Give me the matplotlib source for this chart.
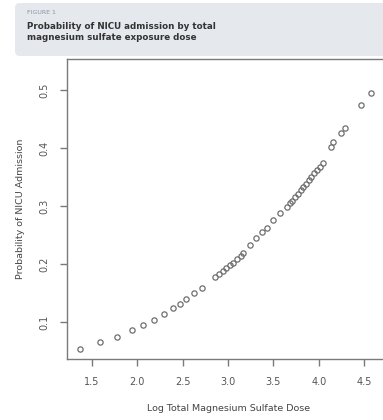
import matplotlib.pyplot as plt
from matplotlib.patches import FancyBboxPatch

# values
log_dose = [1.37, 1.59, 1.77, 1.94, 2.06, 2.18, 2.29, 2.39, 2.47, 2.54, 2.63, 2.71,
            2.86, 2.90, 2.94, 2.98, 3.02, 3.06, 3.10, 3.14, 3.17,
            3.24, 3.31, 3.37, 3.43, 3.50, 3.57,
            3.65, 3.68, 3.71, 3.74, 3.77, 3.80, 3.83, 3.86, 3.89, 3.92, 3.95, 3.98, 4.01, 4.05,
            4.14, 4.16, 4.25, 4.29, 4.47, 4.58]
prob_nicu = [0.054, 0.066, 0.075, 0.087, 0.095, 0.104, 0.114, 0.124, 0.131, 0.141, 0.150, 0.159,
             0.178, 0.183, 0.188, 0.193, 0.198, 0.203, 0.209, 0.214, 0.219,
             0.233, 0.245, 0.256, 0.262, 0.276, 0.288,
             0.299, 0.305, 0.310, 0.316, 0.322, 0.328, 0.333, 0.339, 0.345, 0.351, 0.357, 0.362, 0.368, 0.374,
             0.403, 0.411, 0.426, 0.435, 0.475, 0.496]
x_ticks = [1.5, 2.0, 2.5, 3.0, 3.5, 4.0, 4.5]
y_ticks = [0.1, 0.2, 0.3, 0.4, 0.5]

W, H = 383, 420
fig = plt.figure(figsize=(W / 100, H / 100), dpi=100, facecolor='white')

# header box
box = FancyBboxPatch((15 / W, 1 - 56 / H), 400 / W, 53 / H,
                     boxstyle='round,pad=0,rounding_size=0.012',
                     transform=fig.transFigure, facecolor='#e5e8ed', edgecolor='none')
fig.patches.append(box)
fig.text(27 / W, 1 - 12 / H, 'FIGURE 1', fontsize=4.5, color='#8a93a0', va='center')
fig.text(27 / W, 1 - 32 / H, 'Probability of NICU admission by total\nmagnesium sulfate exposure dose',
         fontsize=6.3, fontweight='bold', color='#333333', va='center', linespacing=1.15,
         family=['Liberation Sans Narrow', 'DejaVu Sans'])

# plot region, right edge runs past the figure like the crop in the reference
ax = fig.add_axes([67 / W, 61 / H, 323 / W, 300 / H])
ax.plot(log_dose, prob_nicu, linestyle='none', marker='o', markersize=3.8,
        markerfacecolor='none', markeredgecolor='#6e6e6e', markeredgewidth=0.9)

ax.set_xlim(1.224, 4.786)
ax.set_ylim(0.0367, 0.554)
ax.set_xticks(x_ticks)
ax.set_xticklabels(['%.1f' % t for t in x_ticks])
ax.set_yticks(y_ticks)
ax.set_yticklabels(['%.1f' % t for t in y_ticks], rotation=90, va='center')

for s in ['left', 'bottom', 'top', 'right']:
    ax.spines[s].set_color('#7a7a7a')
    ax.spines[s].set_linewidth(1.0)
ax.tick_params(axis='both', direction='out', length=5, width=1, color='#7a7a7a',
               labelsize=7, labelcolor='#555555', pad=8)

ax.set_xlabel('Log Total Magnesium Sulfate Dose', fontsize=6.8, color='#444444', labelpad=12)
ax.set_ylabel('Probability of NICU Admission', fontsize=6.8, color='#444444', labelpad=10)

fig.savefig('out.png', dpi=100)
